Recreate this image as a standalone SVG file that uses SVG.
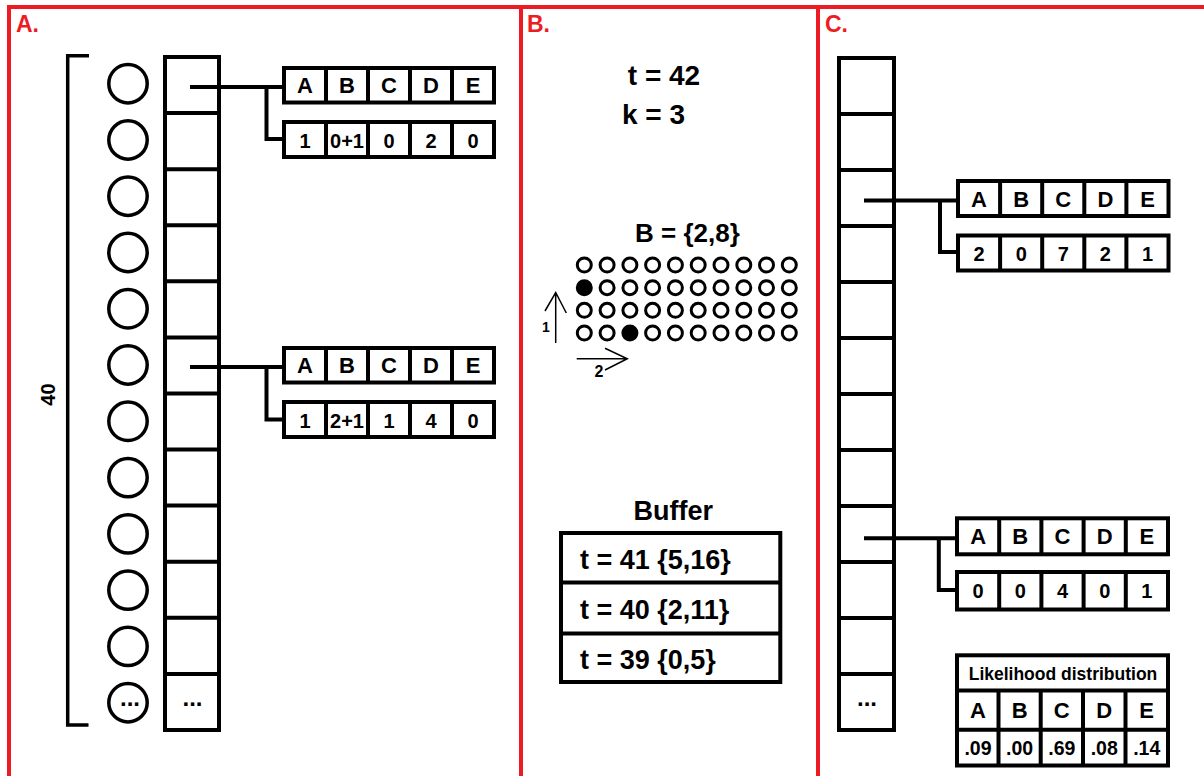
<svg xmlns="http://www.w3.org/2000/svg" width="1204" height="776" viewBox="0 0 1204 776">
<style>
.k{fill:none;stroke:#000;stroke-width:4}
.kc{fill:none;stroke:#000;stroke-width:3.5}
.g{fill:#fff;stroke:#000;stroke-width:3}
.gf{fill:#000;stroke:#000;stroke-width:3}
.thin{fill:none;stroke:#000;stroke-width:1.5}
.frame{fill:none;stroke:#ED1C24;stroke-width:4}
text{font-family:'Liberation Sans',Arial,sans-serif;font-weight:bold;fill:#000}
.lbl{fill:#ED1C24;font-size:23px}
.h{font-size:22px;text-anchor:middle}
.n{font-size:20px;text-anchor:middle}
.big{font-size:28px}
.buf{font-size:27px}
.dots{font-size:24px;text-anchor:middle}
</style>
<rect width="1204" height="776" fill="#fff"/>

<g id="frames">
<path class="frame" d="M9,776 V7 H1204 M521,7 V776 M818,7 V776"/>
<text class="lbl" x="16" y="31.5">A.</text>
<text class="lbl" x="527" y="31.5">B.</text>
<text class="lbl" x="825" y="31.5">C.</text>
</g>

<!-- Panel A -->
<g id="bracket40">
<path class="kc" d="M89,55.7 H67.7 V725 H88.5" stroke-linejoin="miter"/>
<text x="0" y="0" transform="translate(54.5,394.5) rotate(-90)" style="font-size:20px;text-anchor:middle">40</text>
</g>

<g id="circlesA">
<circle class="kc" cx="128" cy="83.7" r="19.2"/>
<circle class="kc" cx="128" cy="140" r="19.2"/>
<circle class="kc" cx="128" cy="196.2" r="19.2"/>
<circle class="kc" cx="128" cy="252.5" r="19.2"/>
<circle class="kc" cx="128" cy="308.8" r="19.2"/>
<circle class="kc" cx="128" cy="365" r="19.2"/>
<circle class="kc" cx="128" cy="421.3" r="19.2"/>
<circle class="kc" cx="128" cy="477.6" r="19.2"/>
<circle class="kc" cx="128" cy="533.9" r="19.2"/>
<circle class="kc" cx="128" cy="590.1" r="19.2"/>
<circle class="kc" cx="128" cy="646.4" r="19.2"/>
<circle class="kc" cx="128" cy="702.7" r="19.2"/>
<text class="dots" x="130" y="706">...</text>
</g>

<g id="columnA">
<rect class="k" x="165" y="57" width="54" height="673"/>
<path class="k" d="M165,113.1 H219 M165,169.2 H219 M165,225.2 H219 M165,281.3 H219 M165,337.4 H219 M165,393.5 H219 M165,449.6 H219 M165,505.6 H219 M165,561.7 H219 M165,617.8 H219 M165,673.9 H219"/>
<text class="dots" x="192.5" y="706">...</text>
</g>

<g id="tableA1">
<rect class="k" x="284" y="68" width="210" height="34.5"/>
<path class="k" d="M326,68 V102.5 M368,68 V102.5 M410,68 V102.5 M452,68 V102.5"/>
<text class="h" x="305" y="93.3">A</text><text class="h" x="347" y="93.3">B</text><text class="h" x="389" y="93.3">C</text><text class="h" x="431" y="93.3">D</text><text class="h" x="473" y="93.3">E</text>
<rect class="k" x="284" y="122" width="210" height="35"/>
<path class="k" d="M326,122 V157 M368,122 V157 M410,122 V157 M452,122 V157"/>
<text class="n" x="305" y="147.5">1</text><text class="n" x="347" y="147.5">0+1</text><text class="n" x="389" y="147.5">0</text><text class="n" x="431" y="147.5">2</text><text class="n" x="473" y="147.5">0</text>
</g>

<g id="tableA2">
<rect class="k" x="284" y="348" width="210" height="34.5"/>
<path class="k" d="M326,348 V382.5 M368,348 V382.5 M410,348 V382.5 M452,348 V382.5"/>
<text class="h" x="305" y="373.3">A</text><text class="h" x="347" y="373.3">B</text><text class="h" x="389" y="373.3">C</text><text class="h" x="431" y="373.3">D</text><text class="h" x="473" y="373.3">E</text>
<rect class="k" x="284" y="402" width="210" height="35"/>
<path class="k" d="M326,402 V437 M368,402 V437 M410,402 V437 M452,402 V437"/>
<text class="n" x="305" y="427.5">1</text><text class="n" x="347" y="427.5">2+1</text><text class="n" x="389" y="427.5">1</text><text class="n" x="431" y="427.5">4</text><text class="n" x="473" y="427.5">0</text>
</g>

<!-- Panel B -->
<g id="params">
<text class="big" x="664" y="85" text-anchor="middle">t = 42</text>
<text class="big" x="653.5" y="124" text-anchor="middle">k = 3</text>
</g>

<g id="gridB">
<text x="687.5" y="241.5" style="font-size:26px;text-anchor:middle">B = {2,8}</text>
<g id="gridcircles">
<circle class="g" cx="584.3" cy="265" r="7"/><circle class="g" cx="607.1" cy="265" r="7"/><circle class="g" cx="629.9" cy="265" r="7"/><circle class="g" cx="652.6" cy="265" r="7"/><circle class="g" cx="675.4" cy="265" r="7"/><circle class="g" cx="698.2" cy="265" r="7"/><circle class="g" cx="721" cy="265" r="7"/><circle class="g" cx="743.8" cy="265" r="7"/><circle class="g" cx="766.5" cy="265" r="7"/><circle class="g" cx="789.3" cy="265" r="7"/>
<circle class="gf" cx="584.3" cy="287.7" r="7"/><circle class="g" cx="607.1" cy="287.7" r="7"/><circle class="g" cx="629.9" cy="287.7" r="7"/><circle class="g" cx="652.6" cy="287.7" r="7"/><circle class="g" cx="675.4" cy="287.7" r="7"/><circle class="g" cx="698.2" cy="287.7" r="7"/><circle class="g" cx="721" cy="287.7" r="7"/><circle class="g" cx="743.8" cy="287.7" r="7"/><circle class="g" cx="766.5" cy="287.7" r="7"/><circle class="g" cx="789.3" cy="287.7" r="7"/>
<circle class="g" cx="584.3" cy="310.3" r="7"/><circle class="g" cx="607.1" cy="310.3" r="7"/><circle class="g" cx="629.9" cy="310.3" r="7"/><circle class="g" cx="652.6" cy="310.3" r="7"/><circle class="g" cx="675.4" cy="310.3" r="7"/><circle class="g" cx="698.2" cy="310.3" r="7"/><circle class="g" cx="721" cy="310.3" r="7"/><circle class="g" cx="743.8" cy="310.3" r="7"/><circle class="g" cx="766.5" cy="310.3" r="7"/><circle class="g" cx="789.3" cy="310.3" r="7"/>
<circle class="g" cx="584.3" cy="333" r="7"/><circle class="g" cx="607.1" cy="333" r="7"/><circle class="gf" cx="629.9" cy="333" r="7"/><circle class="g" cx="652.6" cy="333" r="7"/><circle class="g" cx="675.4" cy="333" r="7"/><circle class="g" cx="698.2" cy="333" r="7"/><circle class="g" cx="721" cy="333" r="7"/><circle class="g" cx="743.8" cy="333" r="7"/><circle class="g" cx="766.5" cy="333" r="7"/><circle class="g" cx="789.3" cy="333" r="7"/>
</g>
<g id="axes">
<path class="thin" d="M555.7,343 V292.5 M545,311 L555.7,292.5 L566.3,313"/>
<text x="546" y="332" style="font-size:14px;text-anchor:middle">1</text>
<path class="thin" d="M576.7,358.7 H627.3 M605,348.3 L627.3,358.7 L605,370"/>
<text x="599" y="376.5" style="font-size:16px;text-anchor:middle">2</text>
</g>
</g>

<g id="buffer">
<text class="buf" x="673.3" y="520" text-anchor="middle">Buffer</text>
<rect class="k" x="561" y="533" width="219.3" height="149"/>
<path class="k" d="M561,582.5 H780.3 M561,633.5 H780.3"/>
<text class="buf" x="580" y="569.3">t = 41 {5,16}</text>
<text class="buf" x="580" y="619.3">t = 40 {2,11}</text>
<text class="buf" x="580" y="669.3">t = 39 {0,5}</text>
</g>

<!-- Panel C -->
<g id="columnC">
<rect class="k" x="839" y="58" width="55" height="672"/>
<path class="k" d="M839,114 H894 M839,170 H894 M839,226 H894 M839,282 H894 M839,338 H894 M839,394 H894 M839,450 H894 M839,506 H894 M839,562 H894 M839,618 H894 M839,674 H894"/>
<text class="dots" x="867" y="706">...</text>
</g>

<g id="tableC1">
<rect class="k" x="958" y="181" width="210.5" height="35"/>
<path class="k" d="M1000.1,181 V216 M1042.2,181 V216 M1084.3,181 V216 M1126.4,181 V216"/>
<text class="h" x="979" y="206.5">A</text><text class="h" x="1021.2" y="206.5">B</text><text class="h" x="1063.3" y="206.5">C</text><text class="h" x="1105.4" y="206.5">D</text><text class="h" x="1147.5" y="206.5">E</text>
<rect class="k" x="958" y="235.5" width="210.5" height="35"/>
<path class="k" d="M1000.1,235.5 V270.5 M1042.2,235.5 V270.5 M1084.3,235.5 V270.5 M1126.4,235.5 V270.5"/>
<text class="n" x="979" y="261">2</text><text class="n" x="1021.2" y="261">0</text><text class="n" x="1063.3" y="261">7</text><text class="n" x="1105.4" y="261">2</text><text class="n" x="1147.5" y="261">1</text>
</g>

<g id="tableC2">
<rect class="k" x="957" y="518.3" width="211" height="36"/>
<path class="k" d="M999.2,518.3 V554.3 M1041.4,518.3 V554.3 M1083.6,518.3 V554.3 M1125.8,518.3 V554.3"/>
<text class="h" x="978.1" y="544.3">A</text><text class="h" x="1020.3" y="544.3">B</text><text class="h" x="1062.5" y="544.3">C</text><text class="h" x="1104.7" y="544.3">D</text><text class="h" x="1146.9" y="544.3">E</text>
<rect class="k" x="957" y="572" width="211" height="37.5"/>
<path class="k" d="M999.2,572 V609.5 M1041.4,572 V609.5 M1083.6,572 V609.5 M1125.8,572 V609.5"/>
<text class="n" x="978.1" y="598">0</text><text class="n" x="1020.3" y="598">0</text><text class="n" x="1062.5" y="598">4</text><text class="n" x="1104.7" y="598">0</text><text class="n" x="1146.9" y="598">1</text>
</g>

<g id="likelihood">
<rect class="k" x="957" y="655.3" width="211" height="110.2"/>
<path class="k" d="M957,690.5 H1168 M957,729.7 H1168 M998.5,690.5 V765.5 M1040.7,690.5 V765.5 M1083,690.5 V765.5 M1125.5,690.5 V765.5"/>
<text x="1063" y="680" style="font-size:17.5px;text-anchor:middle">Likelihood distribution</text>
<text class="h" x="978" y="718">A</text><text class="h" x="1019.6" y="718">B</text><text class="h" x="1061.8" y="718">C</text><text class="h" x="1104.2" y="718">D</text><text class="h" x="1146.7" y="718">E</text>
<text x="978" y="755" style="font-size:19.5px;text-anchor:middle">.09</text>
<text x="1019.6" y="755" style="font-size:19.5px;text-anchor:middle">.00</text>
<text x="1061.8" y="755" style="font-size:19.5px;text-anchor:middle">.69</text>
<text x="1104.2" y="755" style="font-size:19.5px;text-anchor:middle">.08</text>
<text x="1146.7" y="755" style="font-size:19.5px;text-anchor:middle">.14</text>
</g>

<g id="connectors">
<path class="k" d="M190,87 H284 M266.5,87 V139 H284"/>
<path class="k" d="M190,367 H284 M266.5,367 V419.5 H284"/>
<path class="k" d="M864,200.5 H958 M940,200.5 V252 H958"/>
<path class="k" d="M864,538.3 H957 M938.8,538.3 V590 H957"/>
</g>
</svg>
